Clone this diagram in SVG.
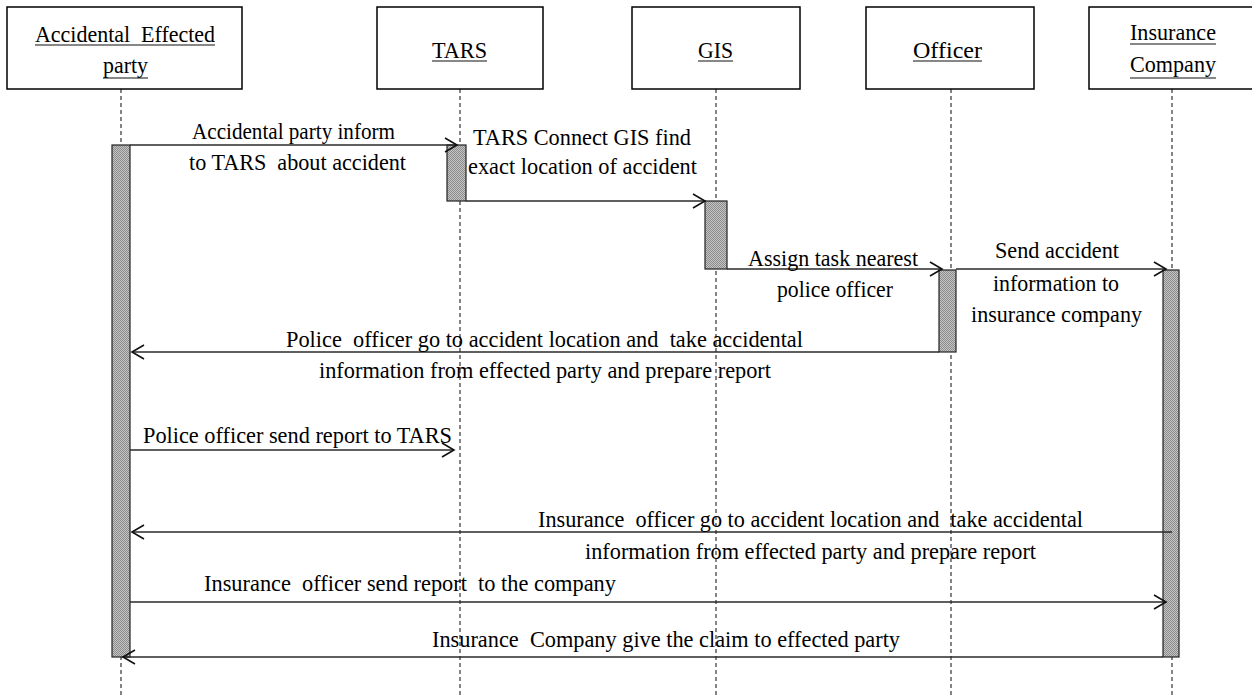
<svg xmlns="http://www.w3.org/2000/svg" width="1252" height="698" viewBox="0 0 1252 698">
  <style>
    .box { fill: #ffffff; stroke: #000000; stroke-width: 1.5; }
    .life { stroke: #333333; stroke-width: 1.2; stroke-dasharray: 4 3; fill: none; }
    .bar { fill: url(#hatch); stroke: #222222; stroke-width: 1.2; }
    .msg { stroke: #2a2a2a; stroke-width: 1.6; fill: none; marker-end: url(#arr); }
    .t { font-family: "Liberation Serif", "Times New Roman", serif; font-size: 24px; fill: #000000; white-space: pre; }
    .ul { stroke: #111111; stroke-width: 1.2; }
  </style>
  <defs>
    <pattern id="hatch" width="2" height="2" patternUnits="userSpaceOnUse">
      <rect width="2" height="2" fill="#c4c4c4"/>
      <rect width="1" height="1" fill="#8c8c8c"/>
      <rect x="1" y="1" width="1" height="1" fill="#8c8c8c"/>
    </pattern>
    <marker id="arr" markerUnits="userSpaceOnUse" markerWidth="16" markerHeight="18" refX="13" refY="8" orient="auto">
      <path d="M1,1 L13,8 L1,15" fill="none" stroke="#111111" stroke-width="1.6"/>
    </marker>
  </defs>

  <g id="lifelines">
    <line class="life" x1="121" y1="89" x2="121" y2="698"/>
    <line class="life" x1="460" y1="89" x2="460" y2="698"/>
    <line class="life" x1="716" y1="89" x2="716" y2="698"/>
    <line class="life" x1="951" y1="89" x2="951" y2="698"/>
    <line class="life" x1="1172" y1="89" x2="1172" y2="698"/>
  </g>

  <g id="node-party">
    <rect class="box" x="7" y="7" width="235" height="82"/>
    <text class="t" x="35" y="42" textLength="180" lengthAdjust="spacingAndGlyphs">Accidental  Effected</text>
    <line class="ul" x1="35" y1="45" x2="215" y2="45"/>
    <text class="t" x="103" y="73" textLength="45" lengthAdjust="spacingAndGlyphs">party</text>
    <line class="ul" x1="103" y1="78" x2="148" y2="78"/>
    <rect class="bar" x="112" y="145" width="18" height="512"/>
  </g>

  <g id="node-tars">
    <rect class="box" x="377" y="7" width="166" height="82"/>
    <text class="t" x="432" y="58" textLength="55" lengthAdjust="spacingAndGlyphs">TARS</text>
    <line class="ul" x1="432" y1="61" x2="487" y2="61"/>
    <rect class="bar" x="447" y="145" width="19" height="56"/>
  </g>

  <g id="node-gis">
    <rect class="box" x="632" y="7" width="168" height="82"/>
    <text class="t" x="698" y="58" textLength="35" lengthAdjust="spacingAndGlyphs">GIS</text>
    <line class="ul" x1="698" y1="61" x2="733" y2="61"/>
    <rect class="bar" x="705" y="201" width="22" height="68"/>
  </g>

  <g id="node-officer">
    <rect class="box" x="866" y="7" width="168" height="82"/>
    <text class="t" x="913" y="58" textLength="69" lengthAdjust="spacingAndGlyphs">Officer</text>
    <line class="ul" x1="913" y1="61" x2="982" y2="61"/>
    <rect class="bar" x="939" y="270" width="17" height="82"/>
  </g>

  <g id="node-insurance">
    <rect class="box" x="1089" y="7" width="170" height="82"/>
    <text class="t" x="1130" y="40" textLength="86" lengthAdjust="spacingAndGlyphs">Insurance</text>
    <line class="ul" x1="1130" y1="44" x2="1216" y2="44"/>
    <text class="t" x="1130" y="72" textLength="86" lengthAdjust="spacingAndGlyphs">Company</text>
    <line class="ul" x1="1130" y1="78" x2="1216" y2="78"/>
    <rect class="bar" x="1163" y="270" width="16" height="387"/>
  </g>

  <g id="connectors">
    <line class="msg" x1="130" y1="145" x2="457" y2="145"/>
    <line class="msg" x1="466" y1="201" x2="705" y2="201"/>
    <line class="msg" x1="727" y1="269" x2="942" y2="269"/>
    <line class="msg" x1="956" y1="269" x2="1166" y2="269"/>
    <line class="msg" x1="939" y1="352" x2="132" y2="352"/>
    <line class="msg" x1="130" y1="450" x2="454" y2="450"/>
    <line class="msg" x1="1172" y1="532" x2="132" y2="532"/>
    <line class="msg" x1="130" y1="602" x2="1166" y2="602"/>
    <line class="msg" x1="1163" y1="657" x2="123" y2="657"/>
  </g>

  <g id="labels">
    <text class="t" x="192" y="139" textLength="203" lengthAdjust="spacingAndGlyphs">Accidental party inform</text>
    <text class="t" x="189" y="170" textLength="217" lengthAdjust="spacingAndGlyphs">to TARS  about accident</text>
    <text class="t" x="473" y="145" textLength="218" lengthAdjust="spacingAndGlyphs">TARS Connect GIS find</text>
    <text class="t" x="468" y="174" textLength="229" lengthAdjust="spacingAndGlyphs">exact location of accident</text>
    <text class="t" x="748" y="266" textLength="170" lengthAdjust="spacingAndGlyphs">Assign task nearest</text>
    <text class="t" x="777" y="297" textLength="116" lengthAdjust="spacingAndGlyphs">police officer</text>
    <text class="t" x="995" y="258" textLength="124" lengthAdjust="spacingAndGlyphs">Send accident</text>
    <text class="t" x="993" y="291" textLength="126" lengthAdjust="spacingAndGlyphs">information to</text>
    <text class="t" x="971" y="322" textLength="171" lengthAdjust="spacingAndGlyphs">insurance company</text>
    <text class="t" x="286" y="347" textLength="517" lengthAdjust="spacingAndGlyphs">Police  officer go to accident location and  take accidental</text>
    <text class="t" x="319" y="378" textLength="452" lengthAdjust="spacingAndGlyphs">information from effected party and prepare report</text>
    <text class="t" x="143" y="443" textLength="309" lengthAdjust="spacingAndGlyphs">Police officer send report to TARS</text>
    <text class="t" x="538" y="527" textLength="545" lengthAdjust="spacingAndGlyphs">Insurance  officer go to accident location and  take accidental</text>
    <text class="t" x="585" y="559" textLength="451" lengthAdjust="spacingAndGlyphs">information from effected party and prepare report</text>
    <text class="t" x="204" y="591" textLength="412" lengthAdjust="spacingAndGlyphs">Insurance  officer send report  to the company</text>
    <text class="t" x="432" y="647" textLength="468" lengthAdjust="spacingAndGlyphs">Insurance  Company give the claim to effected party</text>
  </g>
</svg>
